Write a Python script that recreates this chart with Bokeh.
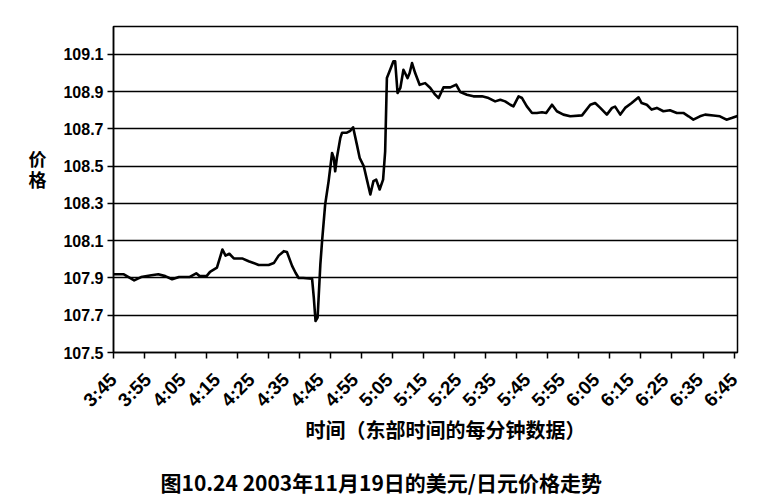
from math import pi

from bokeh.embed import file_html
from bokeh.models import FixedTicker, Range1d, Title
from bokeh.plotting import figure
from bokeh.resources import INLINE

# minutes after 3:45 (EST) and USD/JPY price
minutes = [0, 3, 6, 8, 11, 13, 15, 17, 19, 22, 24, 25, 27, 28, 30,
           31.6, 32.5, 33.6, 34.9, 37.3, 39.2, 42.1, 45, 46.5, 47.9, 49.4, 50.3,
           51.8, 52.8, 53.7, 55, 57.6, 58.1, 58.6, 59.2, 60, 60.5, 61.4, 62.4,
           63.4, 63.9, 64.3, 64.8, 65.8, 66.3, 67.7, 68.7, 69.5, 70.6, 71.4, 72.6,
           73.5, 74.5, 75.4, 76.2, 77.2, 78.2, 78.8, 79.3, 80.3, 81.2, 81.7, 82.4,
           83.2, 84.1, 85.3, 85.9, 86.6, 87.5, 88.8, 90.4, 91.9, 93.3, 94.3, 95.7,
           97.7, 99.4, 100.6, 102.5, 104.4, 106.9, 108.8, 110.7, 112.2, 113.6,
           115.1, 116, 117.5, 118.5, 119.9, 121.4, 122.8, 124.3, 125.5, 127.2,
           128.6, 130.5, 132.5, 135.9, 138.3, 139.7, 141.2, 143.1, 144.6, 145.5,
           147, 148.4, 150.3, 152.3, 153.2, 154.7, 156.1, 157.6, 159.5, 161.4,
           163.4, 165.3, 166.8, 168.2, 170.1, 171.6, 174, 175.9, 177.8, 179.3, 181]
prices = [107.92, 107.92, 107.887, 107.905, 107.915, 107.92, 107.91, 107.893,
          107.905, 107.905, 107.925, 107.91, 107.91, 107.933, 107.955,
          108.053, 108.02, 108.03, 108.005, 108.005, 107.99, 107.97, 107.97,
          107.98, 108.02, 108.044, 108.04,
          107.965, 107.928, 107.9, 107.9, 107.896, 107.794, 107.669, 107.687,
          107.973, 108.098, 108.295, 108.42,
          108.571, 108.545, 108.473, 108.545, 108.652, 108.68, 108.68, 108.69,
          108.709, 108.616, 108.545, 108.5,
          108.428, 108.348, 108.42, 108.428, 108.375, 108.428, 108.58, 108.973,
          109.02, 109.063, 109.063, 108.893,
          108.92, 109.018, 108.973, 109.0, 109.054, 109.0, 108.937, 108.946,
          108.92, 108.884, 108.866, 108.923,
          108.923, 108.938, 108.898, 108.884, 108.875, 108.875, 108.866, 108.848,
          108.857, 108.848,
          108.83, 108.821, 108.875, 108.866, 108.821, 108.786, 108.786, 108.79,
          108.786, 108.83,
          108.795, 108.777, 108.768, 108.773, 108.83, 108.839, 108.813, 108.777,
          108.813, 108.82,
          108.777, 108.813, 108.839, 108.87, 108.839, 108.83, 108.804, 108.813,
          108.795, 108.80,
          108.786, 108.786, 108.768, 108.75, 108.768, 108.777, 108.772, 108.768,
          108.75, 108.759, 108.77]

tick_minutes = [0, 10, 20, 30, 40, 50, 60, 70, 80, 90, 100, 110, 120, 130,
                140, 150, 160, 170, 180]
tick_labels = ["3:45", "3:55", "4:05", "4:15", "4:25", "4:35", "4:45", "4:55",
               "5:05", "5:15", "5:25", "5:35", "5:45", "5:55", "6:05", "6:15",
               "6:25", "6:35", "6:45"]
tick_marks = [0, 9, 18, 27, 36, 45, 54, 63, 72, 81, 90, 99, 108, 117, 126,
              135, 144, 153, 162, 171, 180]
y_ticks = [107.5, 107.7, 107.9, 108.1, 108.3, 108.5, 108.7, 108.9, 109.1]

CJK = "Noto Sans CJK SC"
LATIN = "Liberation Sans"

p = figure(width=765, height=496, output_backend="svg", toolbar_location=None,
           title=None, x_range=Range1d(0, 181), y_range=Range1d(107.5, 109.25),
           min_border_left=113, min_border_right=28, min_border_top=26,
           min_border_bottom=120)
p.background_fill_color = "white"
p.border_fill_color = "white"
p.outline_line_color = "black"
p.outline_line_width = 1.5

p.line(minutes, prices, line_color="black", line_width=2.6, line_join="round")

p.xgrid.visible = False
p.ygrid.ticker = FixedTicker(ticks=y_ticks)
p.ygrid.grid_line_color = "black"
p.ygrid.grid_line_width = 1.7

xa = p.xaxis[0]
xa.ticker = FixedTicker(ticks=tick_minutes, minor_ticks=tick_marks)
xa.major_label_overrides = dict(zip(tick_minutes, tick_labels))
xa.major_tick_out = 0
xa.major_tick_in = 0
xa.minor_tick_out = 6
xa.minor_tick_in = 0
xa.minor_tick_line_color = "black"
xa.minor_tick_line_width = 1.5
xa.major_label_orientation = pi / 4
xa.major_label_standoff = 18
xa.major_label_text_font = LATIN
xa.major_label_text_font_style = "bold"
xa.major_label_text_font_size = "19px"
xa.major_label_text_color = "black"
xa.axis_line_color = "black"
xa.axis_line_width = 1.5

ya = p.yaxis[0]
ya.ticker = FixedTicker(ticks=y_ticks)
ya.major_label_overrides = {v: f"{v:.1f}" for v in y_ticks}
ya.major_tick_out = 6
ya.major_tick_in = 0
ya.minor_tick_out = 0
ya.minor_tick_in = 0
ya.major_tick_line_color = "black"
ya.major_tick_line_width = 1.5
ya.major_label_standoff = 4
ya.major_label_text_font = LATIN
ya.major_label_text_font_style = "bold"
ya.major_label_text_font_size = "16px"
ya.major_label_text_color = "black"
ya.axis_line_color = "black"
ya.axis_line_width = 1.5
# two trailing blank lines lift the stacked label above the frame centre
ya.axis_label = "价\n格\n\n"
ya.axis_label_orientation = "horizontal"
ya.axis_label_standoff = 14
ya.axis_label_text_font = CJK
ya.axis_label_text_font_style = "bold"
ya.axis_label_text_font_size = "18px"
ya.axis_label_text_line_height = 0.8
ya.axis_label_text_color = "black"

p.add_layout(Title(text="时间（东部时间的每分钟数据）", align="left", offset=192,
                   standoff=-18, text_font=CJK, text_font_size="20px",
                   text_font_style="bold", text_color="black"), "below")
p.add_layout(Title(text="\n图10.24  2003年11月19日的美元/日元价格走势", align="left",
                   offset=47, standoff=0, text_font=CJK, text_font_size="21px",
                   text_font_style="bold", text_color="black",
                   text_line_height=1.0), "below")

open("out.html", "w").write(file_html(p, INLINE))
